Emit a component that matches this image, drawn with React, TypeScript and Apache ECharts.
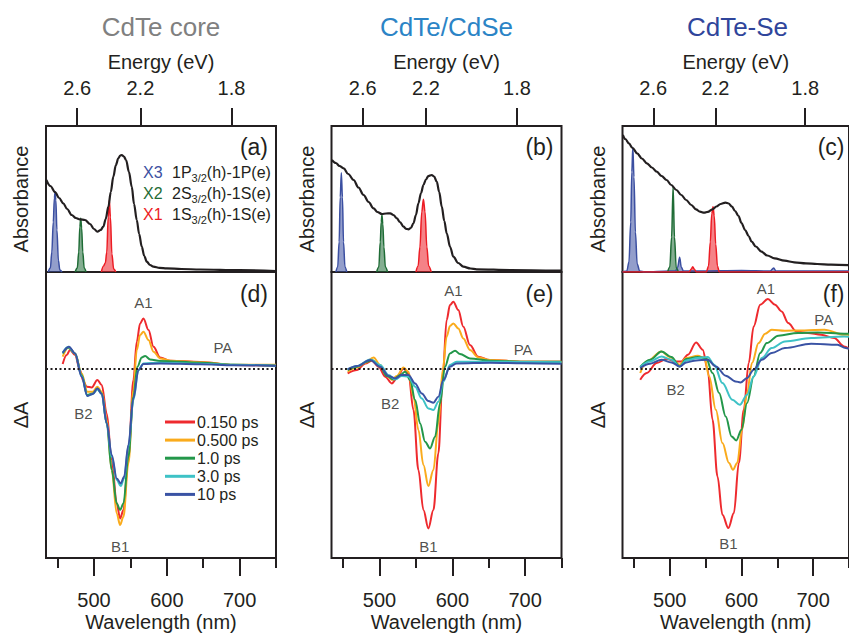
import React, { useEffect, useRef } from "react";
import * as echarts from "echarts";

const FONT = "'Liberation Sans', Arial, Helvetica, sans-serif";
const INK = "#231f20";

const WL_MIN = 434;
const WL_MAX = 750;
const ENERGY_TICKS_EV = [2.6, 2.2, 1.8];
const WL_MAJOR_TICKS = [500, 600, 700];
const WL_MINOR_TICKS = [450, 550, 650, 750];

const PANEL_TITLES = ["CdTe core", "CdTe/CdSe", "CdTe-Se"];
const PANEL_TITLE_COLORS = ["#808080", "#2b84c6", "#2f459b"];
const TOP_TAGS = ["(a)", "(b)", "(c)"];
const BOTTOM_TAGS = ["(d)", "(e)", "(f)"];

const TIME_LABELS = ["0.150 ps", "0.500 ps", "1.0 ps", "3.0 ps", "10 ps"];
const TIME_COLORS = ["#ee2a2e", "#faab1c", "#23974a", "#3ec2c6", "#3a53a4"];

const PEAK_NAMES = ["X3", "X2", "X1"];
const PEAK_COLORS = ["#3b4fa1", "#1f6c36", "#ec1c24"];
const PEAK_TRANSITIONS = [
  ["1P", "3/2", "(h)-1P(e)"],
  ["2S", "3/2", "(h)-1S(e)"],
  ["1S", "3/2", "(h)-1S(e)"],
];

// ---------- Absorbance (wavelength nm, absorbance a.u.) ----------
const absCore = [[434.5,0.92],[440,0.86],[446.4,0.80],[452,0.74],[457.8,0.687],[463,0.63],[469.3,0.57],[475,0.54],[480.7,0.527],[487.6,0.52],[494.5,0.48],[500,0.43],[504.6,0.403],[509,0.42],[512.8,0.453],[516,0.53],[519.7,0.653],[523,0.8],[526.5,0.953],[530,1.07],[533.4,1.137],[536,1.165],[538.1,1.17],[541,1.155],[544,1.12],[548,1.0],[551.8,0.853],[555,0.68],[558.7,0.52],[562,0.38],[565.6,0.253],[569,0.16],[572.5,0.103],[577,0.07],[581.6,0.053],[590,0.042],[600,0.037],[620,0.03],[646,0.025],[700,0.018],[750,0.01]];
const absCdSe = [[434.5,1.12],[440,1.09],[445,1.06],[450.7,1.037],[457,0.98],[464.4,0.92],[471,0.845],[478.1,0.77],[485,0.7],[491.8,0.637],[497,0.6],[503.3,0.58],[509,0.585],[514.7,0.587],[519,0.57],[523.8,0.537],[528,0.5],[532.9,0.453],[536.5,0.432],[539.7,0.427],[543,0.44],[546.6,0.487],[550,0.57],[553.4,0.687],[557,0.79],[560.3,0.87],[563.7,0.925],[567.1,0.96],[571.7,0.97],[575,0.955],[578.6,0.903],[582,0.8],[585.5,0.653],[589,0.51],[592.3,0.387],[597,0.25],[601.4,0.153],[608,0.09],[615.1,0.053],[625,0.035],[633.4,0.027],[680,0.02],[750,0.013]];
const absCdTeSe = [[434.5,1.37],[438,1.33],[442.9,1.287],[448,1.24],[454.4,1.187],[461,1.135],[468.1,1.087],[475,1.045],[481.8,1.003],[488.5,0.96],[495.5,0.92],[502,0.87],[509.2,0.82],[516,0.77],[522.8,0.72],[530,0.67],[536.5,0.627],[542,0.603],[547.9,0.593],[553,0.602],[559.4,0.627],[565,0.655],[570.8,0.68],[577.6,0.693],[582,0.685],[586.8,0.653],[591,0.61],[595.9,0.56],[600,0.49],[605.1,0.42],[610,0.36],[614.2,0.303],[620,0.255],[627.9,0.203],[636,0.165],[646.2,0.137],[660,0.113],[673.6,0.097],[690,0.087],[705.5,0.08],[725,0.074],[750,0.068]];

// ---------- Excitonic transition peaks ----------
const coreX3 = [[437,0],[440,0.04],[442,0.2],[444,0.5],[445.5,0.74],[446.5,0.8],[447.5,0.72],[449,0.42],[451,0.12],[453,0.02],[456,0]];
const coreX2 = [[474,0],[477,0.04],[479,0.2],[480.5,0.45],[481.7,0.537],[483,0.44],[484.5,0.2],[486.5,0.04],[489,0]];
const coreX1 = [[510,0],[513,0.06],[515.5,0.09],[517.5,0.2],[519.5,0.55],[521,0.72],[522.5,0.55],[524.5,0.18],[527,0.03],[530,0]];
const cdseX3 = [[440,0],[442.5,0.05],[444.5,0.3],[446,0.75],[447.5,0.993],[449,0.75],[450.5,0.3],[452.5,0.05],[455,0]];
const cdseX2 = [[496,0],[499,0.05],[501,0.3],[502.3,0.5],[503.3,0.57],[504.5,0.48],[506,0.25],[508,0.05],[511,0]];
const cdseX1 = [[550,0],[553,0.06],[555.5,0.25],[558,0.6],[560.3,0.727],[562.5,0.6],[565,0.25],[567.5,0.06],[571,0]];
const tesX3 = [[434,0],[440,0.01],[443,0.1],[445.5,0.5],[447,1.0],[448.4,1.247],[450,0.95],[452,0.4],[454.5,0.08],[458,0.01],[465,0],[500,0.01],[508,0.01],[511,0.05],[513.7,0.147],[516,0.05],[519,0.01],[540,0.01],[600,0.015],[640,0.01],[645,0.04],[648,0.01],[700,0.01],[750,0.01]];
const tesX2 = [[497,0],[500,0.05],[502.5,0.35],[504.6,0.853],[506.5,0.35],[509,0.04],[512,0]];
const tesX1 = [[434,0],[470,0],[500,0],[527,0],[530,0.03],[532,0.053],[534,0.03],[537,0],[551,0],[554,0.06],[556.5,0.3],[558.5,0.58],[560.3,0.653],[562,0.56],[564,0.28],[566.5,0.06],[569,0],[600,0],[650,0],[750,0]];

// ---------- Transient absorption (wavelength nm, ΔA a.u.) ----------
const coreT0150 = [[456.9,0.047],[462.4,0.137],[467,0.187],[473.9,0.137],[480.7,-0.013],[485,-0.12],[489.9,-0.18],[496.8,-0.187],[504.6,-0.113],[510.6,-0.163],[517.4,-0.447],[524.3,-0.913],[531.2,-1.347],[535.8,-1.497],[540.4,-1.413],[547.2,-0.88],[554.1,-0.113],[558.7,0.27],[563.3,0.453],[567.9,0.503],[574.8,0.387],[581.7,0.22],[590.8,0.113],[604.6,0.08],[645.9,0.067],[691.7,0.037],[750,0.027]];
const coreT0500 = [[456.9,0.12],[464.7,0.213],[473.9,0.153],[483,-0.047],[490.8,-0.23],[498.2,-0.23],[504.6,-0.18],[510.6,-0.23],[517.4,-0.513],[524.3,-1.013],[531.2,-1.447],[535.8,-1.563],[540.4,-1.48],[547.2,-0.947],[554.1,-0.213],[558.7,0.187],[563.3,0.337],[567.9,0.37],[574.8,0.287],[581.7,0.17],[590.8,0.103],[604.6,0.08],[645.9,0.065],[691.7,0.04],[750,0.04]];
const coreT1 = [[456.9,0.153],[464.7,0.213],[473.9,0.153],[483,-0.063],[490.8,-0.263],[498.2,-0.247],[504.6,-0.197],[510.6,-0.247],[517.4,-0.547],[524.3,-1.013],[531.2,-1.347],[535.8,-1.413],[540.4,-1.347],[547.2,-0.88],[554.1,-0.28],[559.6,0.02],[565.6,0.113],[570.2,0.127],[577.1,0.093],[590.8,0.077],[645.9,0.06],[691.7,0.04],[750,0.03]];
const coreT3 = [[456.9,0.16],[464.7,0.22],[473.9,0.153],[483,-0.073],[490.8,-0.273],[498.2,-0.253],[504.6,-0.207],[510.6,-0.253],[517.4,-0.547],[524.3,-0.88],[531.2,-1.113],[536.7,-1.173],[541.3,-1.097],[547.2,-0.78],[554.1,-0.313],[561,-0.013],[567.9,0.053],[590.8,0.06],[645.9,0.05],[691.7,0.04],[750,0.03]];
const coreT10 = [[456.9,0.16],[465.6,0.22],[473.9,0.153],[483,-0.08],[490.8,-0.273],[498.2,-0.253],[504.6,-0.197],[510.6,-0.253],[517.4,-0.547],[524.3,-0.863],[531.2,-1.097],[536.7,-1.147],[541.3,-1.08],[547.2,-0.763],[554.1,-0.297],[561,-0.013],[567.9,0.047],[590.8,0.053],[645.9,0.045],[691.7,0.035],[750,0.03]];

const cdseT0150 = [[456.2,-0.047],[469,-0.013],[480.4,0.053],[489.5,0.08],[498.6,0.02],[507.8,-0.08],[516.9,-0.147],[523.7,-0.097],[532.9,0.003],[539.7,-0.047],[546.6,-0.413],[553.4,-1.013],[560.3,-1.413],[567.1,-1.597],[574,-1.413],[580.8,-0.847],[586.8,-0.08],[592.2,0.487],[596.8,0.637],[601.4,0.67],[608.2,0.587],[615.1,0.42],[624.2,0.237],[635.6,0.12],[651.6,0.087],[697.3,0.07],[750,0.07]];
const cdseT0500 = [[456.2,-0.03],[469,0.013],[480.4,0.06],[491.8,0.113],[500.9,0.037],[510,-0.063],[516.9,-0.113],[523.7,-0.073],[532.9,0.013],[539.7,-0.03],[546.6,-0.28],[553.4,-0.613],[560.3,-0.963],[567.1,-1.173],[574,-1.013],[580.8,-0.547],[586.8,-0.013],[592.2,0.32],[596.8,0.427],[601.4,0.453],[608.2,0.403],[615.1,0.303],[624.2,0.187],[635.6,0.113],[651.6,0.087],[697.3,0.07],[750,0.07]];
const cdseT1 = [[456.2,-0.013],[469,0.02],[482.6,0.07],[489.5,0.087],[500.9,0.02],[510,-0.073],[519.2,-0.107],[528.3,-0.063],[535.2,-0.03],[542,-0.113],[548.9,-0.313],[555.7,-0.547],[562.6,-0.73],[569.4,-0.797],[576.3,-0.68],[583.1,-0.347],[590,0.02],[596.8,0.153],[603.7,0.18],[610.5,0.147],[624.2,0.103],[651.6,0.08],[697.3,0.07],[750,0.07]];
const cdseT3 = [[456.2,-0.007],[469,0.027],[487.2,0.093],[500.9,0.037],[512.3,-0.063],[521.5,-0.107],[530.6,-0.073],[539.7,-0.08],[548.9,-0.18],[558,-0.297],[567.1,-0.397],[574,-0.413],[580.8,-0.33],[587.7,-0.13],[596.8,0.037],[605.9,0.07],[651.6,0.07],[697.3,0.067],[750,0.065]];
const cdseT10 = [[456.2,-0.007],[469,0.027],[487.2,0.087],[500.9,0.02],[512.3,-0.073],[521.5,-0.097],[530.6,-0.063],[539.7,-0.063],[548.9,-0.147],[558,-0.247],[567.1,-0.323],[574,-0.34],[580.8,-0.28],[587.7,-0.113],[596.8,0.02],[605.9,0.053],[651.6,0.06],[697.3,0.055],[750,0.05]];

const tesT0150 = [[458.7,-0.11],[467.9,-0.043],[481.7,0.057],[495.4,0.097],[509.2,0.073],[516.1,0.073],[525.2,0.14],[536.7,0.263],[545.9,0.19],[552.8,-0.01],[559.6,-0.51],[566.5,-1.077],[573.4,-1.46],[581.7,-1.593],[589.4,-1.443],[596.3,-0.943],[603.2,-0.41],[610.1,0.057],[617,0.423],[626.1,0.64],[636.7,0.697],[646.8,0.64],[656,0.573],[665.1,0.457],[676.6,0.373],[692.7,0.357],[711,0.34],[729.4,0.307],[743.1,0.223],[750,0.2]];
const tesT0500 = [[458.7,-0.043],[467.9,0.073],[488.5,0.173],[500,0.117],[513.8,0.04],[522.9,0.107],[539,0.13],[548.2,0.107],[555,-0.077],[564.2,-0.41],[573.4,-0.743],[582.6,-0.943],[588.1,-1.01],[594,-0.943],[600.9,-0.61],[607.8,-0.243],[614.7,0.057],[623.9,0.257],[633,0.35],[642.2,0.39],[660.6,0.38],[688.1,0.383],[715.6,0.39],[743.1,0.34],[750,0.34]];
const tesT1 = [[458.7,0.017],[472.5,0.09],[488.5,0.173],[502.3,0.117],[513.8,0.023],[522.9,0.097],[539,0.117],[550.5,0.107],[559.6,-0.043],[568.8,-0.243],[578,-0.477],[586.2,-0.677],[592.7,-0.717],[600,-0.61],[607.8,-0.343],[617,-0.077],[626.1,0.157],[635.3,0.257],[651.4,0.33],[678.9,0.357],[706.4,0.363],[743.1,0.35],[750,0.35]];
const tesT3 = [[458.7,0.017],[472.5,0.073],[488.5,0.123],[502.3,0.09],[513.8,0.023],[522.9,0.083],[539,0.107],[552.8,0.117],[561.9,0.04],[573.4,-0.143],[587.2,-0.31],[597.7,-0.36],[607.8,-0.26],[617,-0.077],[628.4,0.107],[642.2,0.207],[660.6,0.273],[697.2,0.307],[743.1,0.323],[750,0.32]];
const tesT10 = [[458.7,0.007],[472.5,0.05],[488.5,0.09],[502.3,0.063],[513.8,0.023],[522.9,0.063],[536.7,0.083],[552.8,0.09],[564.2,0.023],[578,-0.07],[591.7,-0.127],[598.6,-0.137],[607.8,-0.093],[617,-0.01],[628.4,0.09],[642.2,0.157],[660.6,0.207],[697.2,0.25],[733.9,0.24],[745.4,0.207],[750,0.2]];

// ---------- Feature annotations (wavelength, ΔA, text) ----------
const coreFeatures = [[567.9, 0.663, "A1"], [677, 0.213, "PA"], [485.3, -0.447, "B2"], [535.8, -1.78, "B1"]];
const cdseFeatures = [[601.4, 0.78, "A1"], [697.3, 0.193, "PA"], [514.6, -0.347, "B2"], [567.1, -1.78, "B1"]];
const tesFeatures = [[634, 0.807, "A1"], [714.7, 0.49, "PA"], [508.3, -0.203, "B2"], [581.7, -1.743, "B1"]];

const ABS_CURVES = [absCore, absCdSe, absCdTeSe];
const PEAK_SETS = [[coreX3, coreX2, coreX1], [cdseX3, cdseX2, cdseX1], [tesX3, tesX2, tesX1]];
const TA_SETS = [
  [coreT0150, coreT0500, coreT1, coreT3, coreT10],
  [cdseT0150, cdseT0500, cdseT1, cdseT3, cdseT10],
  [tesT0150, tesT0500, tesT1, tesT3, tesT10],
];
const FEATURE_SETS = [coreFeatures, cdseFeatures, tesFeatures];

const ABS_RANGE = [0, 1.46];
const DA_RANGE = [-1.893, 0.967];

// layout
const GRID_LEFTS = [46, 331.5, 622.5];
const GRID_W = 230;
const TOP_Y = 126;
const MID_Y = 272;
const BOT_Y = 558;

function buildOption() {
  const grids: any[] = [];
  const xAxes: any[] = [];
  const yAxes: any[] = [];
  const series: any[] = [];
  const graphics: any[] = [];
  const energyTickWl = ENERGY_TICKS_EV.map((e) => 1240 / e);
  const txt = { color: INK, fontFamily: FONT };
  const ghostLine = { show: true, onZero: false, lineStyle: { color: "rgba(0,0,0,0)", width: 0 } };
  const noLine = { show: false, onZero: false };

  for (let p = 0; p < 3; p++) {
    const left = GRID_LEFTS[p];
    const frame = { show: true, borderColor: INK, borderWidth: 2, backgroundColor: "transparent" };
    grids.push({ left, top: TOP_Y, width: GRID_W, height: MID_Y - TOP_Y, ...frame });
    grids.push({ left, top: MID_Y, width: GRID_W, height: BOT_Y - MID_Y, ...frame });
    const gTop = 2 * p;
    const gBot = 2 * p + 1;

    xAxes.push({
      gridIndex: gTop, type: "value", position: "top", min: WL_MIN, max: WL_MAX,
      name: "Energy (eV)", nameLocation: "middle", nameGap: 54,
      nameTextStyle: { ...txt, fontSize: 20 },
      axisLine: ghostLine, splitLine: { show: false },
      axisTick: { show: true, inside: false, customValues: energyTickWl, length: 18, lineStyle: { color: INK, width: 2 } },
      axisLabel: { show: true, customValues: energyTickWl, formatter: (v: number) => (1240 / v).toFixed(1), margin: 28, fontSize: 20, ...txt },
    });
    xAxes.push({
      gridIndex: gBot, type: "value", position: "bottom", min: WL_MIN, max: WL_MAX,
      name: "Wavelength (nm)", nameLocation: "middle", nameGap: 54,
      nameTextStyle: { ...txt, fontSize: 20 },
      axisLine: ghostLine, splitLine: { show: false },
      axisTick: { show: true, inside: false, customValues: WL_MAJOR_TICKS, length: 18, lineStyle: { color: INK, width: 2 } },
      axisLabel: { show: true, customValues: WL_MAJOR_TICKS, margin: 32, fontSize: 20, ...txt },
    });
    xAxes.push({
      gridIndex: gBot, type: "value", position: "bottom", min: WL_MIN, max: WL_MAX,
      axisLine: ghostLine, splitLine: { show: false },
      axisTick: { show: true, inside: false, customValues: WL_MINOR_TICKS, length: 10, lineStyle: { color: INK, width: 2 } },
      axisLabel: { show: false },
    });
    const yCommon = {
      type: "value", nameLocation: "middle", nameRotate: 90, nameGap: 15,
      nameTextStyle: { ...txt, fontSize: 20 },
      axisLine: noLine, axisTick: { show: false }, axisLabel: { show: false }, splitLine: { show: false },
    };
    yAxes.push({ ...yCommon, gridIndex: gTop, min: ABS_RANGE[0], max: ABS_RANGE[1], name: "Absorbance" });
    yAxes.push({ ...yCommon, gridIndex: gBot, min: DA_RANGE[0], max: DA_RANGE[1], name: "ΔA" });

    const xTop = 3 * p;
    const xBot = 3 * p + 1;

    PEAK_SETS[p].forEach((pk, k) => {
      series.push({
        type: "line", name: PEAK_NAMES[k] + "-" + p, xAxisIndex: xTop, yAxisIndex: gTop,
        data: pk, symbol: "none", smooth: 0.35, smoothMonotone: "x",
        lineStyle: { color: PEAK_COLORS[k], width: 1.5 },
        areaStyle: { color: PEAK_COLORS[k], opacity: 0.55 },
        z: 2, silent: true,
      });
    });
    series.push({
      type: "line", name: "abs-" + p, xAxisIndex: xTop, yAxisIndex: gTop,
      data: ABS_CURVES[p], symbol: "none", smooth: 0.35, smoothMonotone: "x",
      lineStyle: { color: INK, width: 2.2 }, z: 3, silent: true,
    });

    TA_SETS[p].forEach((tr, k) => {
      const s: any = {
        type: "line", name: TIME_LABELS[k], xAxisIndex: xBot, yAxisIndex: gBot,
        data: tr, symbol: "none", smooth: 0.35, smoothMonotone: "x",
        lineStyle: { color: TIME_COLORS[k], width: 2 }, itemStyle: { color: TIME_COLORS[k] },
        z: 3, silent: true,
      };
      if (k === 0) {
        s.markLine = {
          silent: true, symbol: ["none", "none"], label: { show: false },
          lineStyle: { color: INK, width: 2, type: [2, 2.5] },
          data: [{ yAxis: 0 }], z: 4,
        };
      }
      series.push(s);
    });

    series.push({
      type: "scatter", name: "features-" + p, xAxisIndex: xBot, yAxisIndex: gBot,
      data: FEATURE_SETS[p], symbolSize: 0.1, itemStyle: { color: "transparent" }, silent: true, z: 5,
      label: { show: true, position: "inside", formatter: (d: any) => d.data[2], fontSize: 15, ...txt },
    });

    const cx = left + GRID_W / 2;
    graphics.push({
      type: "text", x: cx, y: 27,
      style: { text: PANEL_TITLES[p], fill: PANEL_TITLE_COLORS[p], fontSize: 26, fontFamily: FONT, align: "center", verticalAlign: "middle" },
    });
    graphics.push({
      type: "text", x: left + GRID_W - 8, y: 147,
      style: { text: TOP_TAGS[p], fill: INK, fontSize: 23, fontFamily: FONT, align: "right", verticalAlign: "middle" },
    });
    graphics.push({
      type: "text", x: left + GRID_W - 8, y: 294,
      style: { text: BOTTOM_TAGS[p], fill: INK, fontSize: 23, fontFamily: FONT, align: "right", verticalAlign: "middle" },
    });
  }

  // transition legend in panel (a)
  const rowsY = [172, 193, 214];
  PEAK_NAMES.forEach((nm, k) => {
    graphics.push({
      type: "text", x: 143, y: rowsY[k],
      style: { text: nm, fill: PEAK_COLORS[k], fontSize: 16, fontFamily: FONT, align: "left", verticalAlign: "middle" },
    });
    const t = PEAK_TRANSITIONS[k];
    graphics.push({
      type: "text", x: 172, y: rowsY[k],
      style: {
        text: `{a|${t[0]}}{b|${t[1]}}{a|${t[2]}}`,
        align: "left", verticalAlign: "middle",
        rich: {
          a: { fontSize: 16, fontFamily: FONT, fill: INK, color: INK, lineHeight: 22, verticalAlign: "middle" },
          b: { fontSize: 11, fontFamily: FONT, fill: INK, color: INK, lineHeight: 11, verticalAlign: "bottom" },
        },
      },
    });
  });

  return {
    animation: false,
    backgroundColor: "#ffffff",
    textStyle: { fontFamily: FONT },
    grid: grids,
    xAxis: xAxes,
    yAxis: yAxes,
    legend: {
      data: TIME_LABELS, orient: "vertical", left: 160, top: 409,
      icon: "rect", itemWidth: 30, itemHeight: 3, itemGap: 2.1, selectedMode: false,
      textStyle: { fontSize: 16, color: INK, fontFamily: FONT, lineHeight: 16, padding: [0, 0, 0, -3] },
    },
    series,
    graphic: graphics,
  };
}

export default function App() {
  const ref = useRef<HTMLDivElement>(null);
  useEffect(() => {
    if (!ref.current) return;
    const chart = echarts.init(ref.current, undefined, { renderer: "svg" });
    chart.setOption(buildOption() as any);
    return () => chart.dispose();
  }, []);
  return (
    <div
      ref={ref}
      style={{ position: "absolute", left: 0, top: 0, width: 849, height: 636, background: "#fff" }}
    />
  );
}
